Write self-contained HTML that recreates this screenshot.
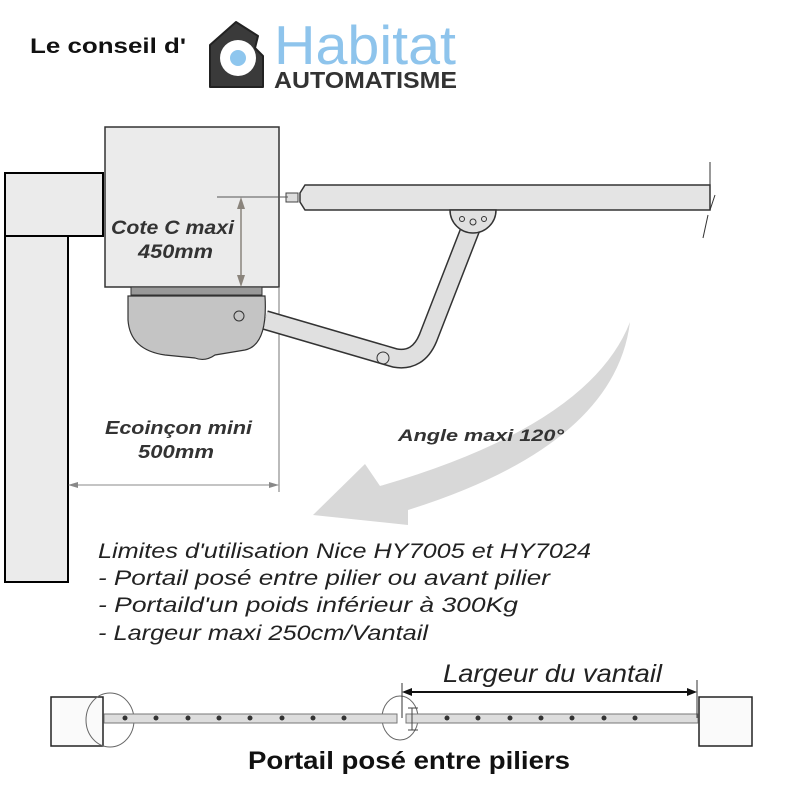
<!DOCTYPE html>
<html><head><meta charset="utf-8"><style>html,body{margin:0;padding:0;background:#fff}svg{display:block}</style></head>
<body>
<svg width="800" height="800" viewBox="0 0 800 800" xmlns="http://www.w3.org/2000/svg" font-family="Liberation Sans, sans-serif">
<rect width="800" height="800" fill="#fff"/>
<!-- header -->
<text x="30" y="53" font-size="21" font-weight="bold" fill="#111" textLength="156" lengthAdjust="spacingAndGlyphs">Le conseil d'</text>
<path d="M210,45 L236,22 L258,36 L255,48 L263,56 L263,87 L210,87 Z" fill="#3a3a3a" stroke="#222" stroke-width="2" stroke-linejoin="round"/>
<circle cx="238" cy="58" r="18" fill="#fff"/>
<circle cx="238" cy="58" r="8" fill="#8ec6ee"/>
<text x="274" y="64" font-size="55" fill="#8ec4ec" textLength="182" lengthAdjust="spacingAndGlyphs">Habitat</text>
<text x="274" y="88" font-size="23" font-weight="bold" fill="#333" textLength="183" lengthAdjust="spacingAndGlyphs">AUTOMATISME</text>

<!-- wall -->
<rect x="5" y="173" width="98" height="63" fill="#ebebeb" stroke="#000" stroke-width="2"/>
<rect x="5" y="236" width="63" height="346" fill="#ebebeb" stroke="#000" stroke-width="2"/>

<!-- motor box -->
<rect x="105" y="127" width="174" height="160" fill="#ebebeb" stroke="#333" stroke-width="1.5"/>
<line x1="279" y1="287" x2="279" y2="492" stroke="#777" stroke-width="1"/>
<!-- gate bar -->
<path d="M300,193 L305,185 L710,185 L710,210 L305,210 L300,202 Z" fill="#e4e4e4" stroke="#333" stroke-width="1.5"/>
<rect x="286" y="193" width="12" height="9" fill="#ddd" stroke="#444"/>
<path d="M710,162 L710,210 L715,195 M708,215 L703,238" stroke="#333" fill="none"/>
<!-- arm -->
<path d="M472,225 L428,338 Q418,362 395,358 L265,320" fill="none" stroke="#333" stroke-width="20" stroke-linejoin="round"/>
<path d="M472,225 L428,338 Q418,362 395,358 L265,320" fill="none" stroke="#e0e0e0" stroke-width="17" stroke-linejoin="round"/>
<path d="M450,210 A23,23 0 0 0 496,210 Z" fill="#e0e0e0" stroke="#333" stroke-width="1.5"/>
<circle cx="462" cy="219" r="2.5" fill="none" stroke="#333"/><circle cx="473" cy="222" r="3" fill="none" stroke="#333"/><circle cx="484" cy="219" r="2.5" fill="none" stroke="#333"/>
<circle cx="383" cy="358" r="6" fill="none" stroke="#333"/>
<!-- motor -->
<rect x="131" y="287" width="131" height="8" fill="#999" stroke="#333"/>
<path d="M128,296 L265,296 Q268,345 245,350 L215,355 Q205,362 195,358 L165,355 Q130,350 128,320 Z" fill="#c4c4c4" stroke="#333" stroke-width="1.2"/>
<circle cx="239" cy="316" r="5" fill="none" stroke="#333"/>
<!-- dims C -->
<line x1="217" y1="197" x2="288" y2="197" stroke="#555"/>
<line x1="241" y1="200" x2="241" y2="284" stroke="#8a847c" stroke-width="1.5"/>
<path d="M237,209 L241,197 L245,209 Z M237,275 L241,287 L245,275 Z" fill="#8a847c"/>
<text x="111" y="234" font-size="19" font-weight="bold" font-style="italic" fill="#333" textLength="123" lengthAdjust="spacingAndGlyphs">Cote C maxi</text>
<text x="138" y="258" font-size="19" font-weight="bold" font-style="italic" fill="#333" textLength="75" lengthAdjust="spacingAndGlyphs">450mm</text>
<!-- big arrow -->
<path d="M630,322 Q615,445 408,510 L408,525 L313,515 L365,464 L380,486 Q590,425 630,322 Z" fill="#d8d8d8"/>
<text x="398" y="441" font-size="17" font-weight="bold" font-style="italic" fill="#333" textLength="166" lengthAdjust="spacingAndGlyphs">Angle maxi 120°</text>
<!-- ecoincon -->
<text x="105" y="434" font-size="18" font-weight="bold" font-style="italic" fill="#333" textLength="147" lengthAdjust="spacingAndGlyphs">Ecoinçon mini</text>
<text x="138" y="458" font-size="18" font-weight="bold" font-style="italic" fill="#333" textLength="76" lengthAdjust="spacingAndGlyphs">500mm</text>
<line x1="70" y1="485" x2="278" y2="485" stroke="#888"/>
<path d="M68,485 L78,482 L78,488 Z M279,485 L269,482 L269,488 Z" fill="#888"/>
<!-- text block -->
<g font-size="21" font-style="italic" fill="#222">
<text x="98" y="558" textLength="493" lengthAdjust="spacingAndGlyphs">Limites d'utilisation Nice HY7005 et HY7024</text>
<text x="98" y="585" textLength="452" lengthAdjust="spacingAndGlyphs">- Portail posé entre pilier ou avant pilier</text>
<text x="98" y="612" textLength="420" lengthAdjust="spacingAndGlyphs">- Portaild'un poids inférieur à 300Kg</text>
<text x="98" y="640" textLength="330" lengthAdjust="spacingAndGlyphs">- Largeur maxi 250cm/Vantail</text>
</g>
<!-- bottom plan -->
<rect x="51" y="697" width="52" height="49" fill="#fafafa" stroke="#222" stroke-width="1.5"/>
<rect x="699" y="697" width="53" height="49" fill="#fafafa" stroke="#222" stroke-width="1.5"/>
<ellipse cx="110" cy="720" rx="24" ry="27" fill="none" stroke="#666"/>
<ellipse cx="400" cy="718" rx="18" ry="22" fill="none" stroke="#666"/>
<rect x="104" y="714" width="293" height="9" fill="#ddd" stroke="#777"/>
<rect x="406" y="714" width="292" height="9" fill="#ddd" stroke="#777"/>
<g fill="#333">
<circle cx="125" cy="718" r="2.5"/><circle cx="156" cy="718" r="2.5"/><circle cx="188" cy="718" r="2.5"/><circle cx="219" cy="718" r="2.5"/><circle cx="250" cy="718" r="2.5"/><circle cx="282" cy="718" r="2.5"/><circle cx="313" cy="718" r="2.5"/><circle cx="344" cy="718" r="2.5"/>
<circle cx="447" cy="718" r="2.5"/><circle cx="478" cy="718" r="2.5"/><circle cx="510" cy="718" r="2.5"/><circle cx="541" cy="718" r="2.5"/><circle cx="572" cy="718" r="2.5"/><circle cx="604" cy="718" r="2.5"/><circle cx="635" cy="718" r="2.5"/>
</g>
<path d="M408,708 L418,708 M408,730 L418,730 M412,708 L412,730" stroke="#444" fill="none"/>
<line x1="402" y1="683" x2="402" y2="718" stroke="#333"/>
<line x1="697" y1="680" x2="697" y2="718" stroke="#333"/>
<line x1="405" y1="692" x2="694" y2="692" stroke="#111" stroke-width="2"/>
<path d="M402,692 L412,688 L412,696 Z M697,692 L687,688 L687,696 Z" fill="#111"/>
<text x="443" y="682" font-size="25" font-style="italic" fill="#222" textLength="219" lengthAdjust="spacingAndGlyphs">Largeur du vantail</text>
<text x="248" y="769" font-size="25" font-weight="bold" fill="#111" textLength="322" lengthAdjust="spacingAndGlyphs">Portail posé entre piliers</text>
</svg>
</body></html>
